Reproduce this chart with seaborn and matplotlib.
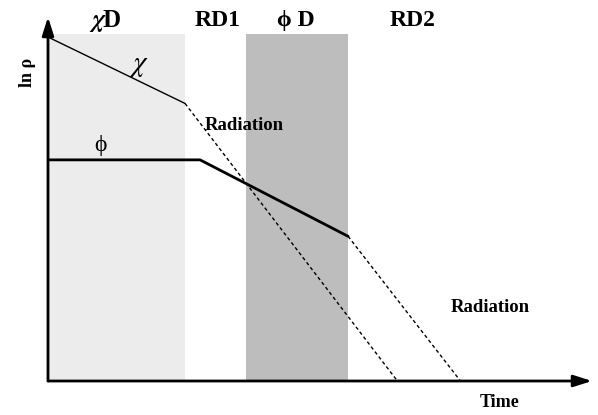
import matplotlib
matplotlib.use("Agg")
import matplotlib.pyplot as plt
import seaborn as sns

sns.set_style("white")
plt.rcParams['font.family'] = ['Liberation Serif', 'DejaVu Serif']
plt.rcParams['mathtext.fontset'] = 'stix'
plt.rcParams['text.color'] = 'black'

# Schematic values (time, ln rho)
chi_t = [0.0, 10.0]
chi_v = [37.8, 30.5]
chi_rad_t = [10.0, 25.5]
chi_rad_v = [30.5, 0.0]
phi_t = [0.0, 11.1, 21.9]
phi_v = [24.3, 24.3, 15.9]
phi_rad_t = [21.9, 30.1]
phi_rad_v = [15.9, 0.0]

bands = [(r"$\boldsymbol{\chi}$D", 0.0, 10.0, "#ececec"),
         ("RD1", 10.0, 14.45, None),
         ("ϕ D", 14.45, 21.9, "#bdbdbd"),
         ("RD2", 21.9, 39.7, None)]
band_top = 38.1
label_x = [4.15, 12.35, 18.1, 26.6]

fig = plt.figure(figsize=(5.98, 4.15), dpi=100)
ax = fig.add_axes([48/598, 34/415, 544/598, 364/415])
ax.set_xlim(0, 39.7)
ax.set_ylim(0, 40)
for s in ax.spines.values():
    s.set_visible(False)
ax.set_xticks([])
ax.set_yticks([])

for (name, x0, x1, col), lx in zip(bands, label_x):
    if col:
        ax.fill_between([x0, x1], 0, band_top, color=col, lw=0, zorder=0)
    ax.text(lx, 39.6, name, ha="center", va="center",
            fontsize=18 if "chi" in name else 17,
            fontweight="bold", clip_on=False, color="black")

sns.lineplot(x=chi_t, y=chi_v, ax=ax, color="black", lw=1.0, sort=False)
sns.lineplot(x=chi_rad_t, y=chi_rad_v, ax=ax, color="black", lw=1.0,
             linestyle=(0, (2.5, 2)), sort=False)
sns.lineplot(x=phi_t, y=phi_v, ax=ax, color="black", lw=2.0, sort=False)
sns.lineplot(x=phi_rad_t, y=phi_rad_v, ax=ax, color="black", lw=1.0,
             linestyle=(0, (2.5, 2)), sort=False)

ax.text(6.6, 34.6, r"$\chi$", fontsize=21, ha="center", va="center", color="black")
ax.text(3.8, 25.9, "ϕ", fontsize=17, ha="center", va="center", color="black")
ax.text(11.4, 28.1, "Radiation", fontsize=13.5, fontweight="bold",
        ha="left", va="center", color="black")
ax.text(32.3, 8.1, "Radiation", fontsize=13.5, fontweight="bold",
        ha="center", va="center", color="black")

# axes with arrows
ax.annotate("", xy=(1.0, 0), xytext=(0, 0), xycoords="axes fraction",
            arrowprops=dict(arrowstyle="-|>,head_length=1.1,head_width=0.35",
                            color="black", lw=2, shrinkA=0, shrinkB=0))
ax.annotate("", xy=(0, 1.0), xytext=(0, 0), xycoords="axes fraction",
            arrowprops=dict(arrowstyle="-|>,head_length=1.1,head_width=0.35",
                            color="black", lw=2, shrinkA=0, shrinkB=0))

fig.text(500/598, 1 - 402/415, "Time", fontsize=13, fontweight="bold",
         ha="center", va="center", color="black")
fig.text(28/598, 1 - 72/415, "ln ρ", fontsize=13, fontweight="bold",
         ha="center", va="center", rotation=90, color="black")

fig.savefig("out.png", dpi=100)
